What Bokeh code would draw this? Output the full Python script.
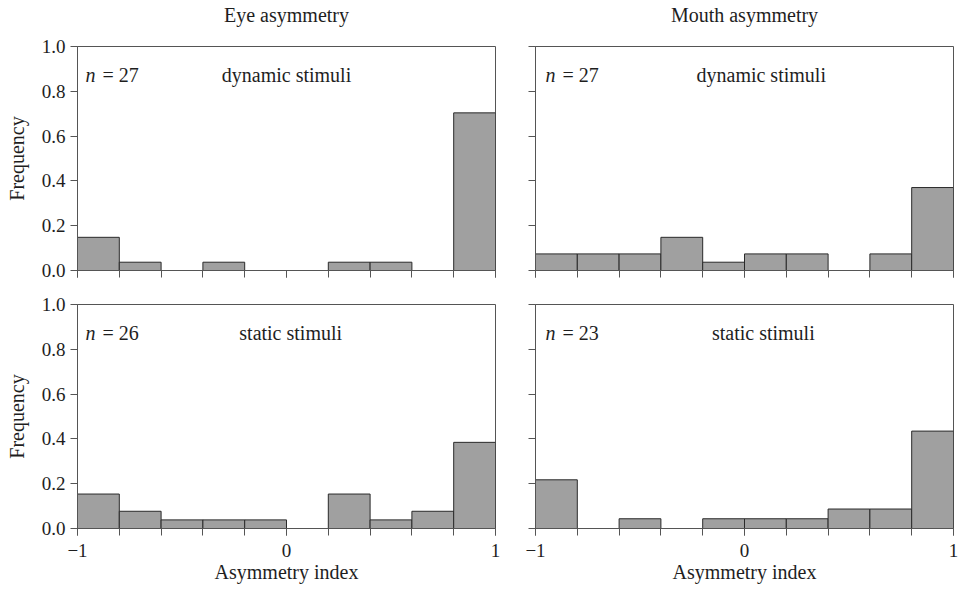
from bokeh.plotting import figure
from bokeh.layouts import column, row
from bokeh.models import FixedTicker, PrintfTickFormatter, CustomJSTickFormatter, Label, ColumnDataSource
from bokeh.embed import file_html
from bokeh.resources import INLINE

# ---- data ----
bin_edges = [-1.0, -0.8, -0.6, -0.4, -0.2, 0.0, 0.2, 0.4, 0.6, 0.8, 1.0]
eye_dynamic_counts = [4, 1, 0, 1, 0, 0, 1, 1, 0, 19]
eye_dynamic_n = 27
mouth_dynamic_counts = [2, 2, 2, 4, 1, 2, 2, 0, 2, 10]
mouth_dynamic_n = 27
eye_static_counts = [4, 2, 1, 1, 1, 0, 4, 1, 2, 10]
eye_static_n = 26
mouth_static_counts = [5, 0, 1, 0, 1, 1, 1, 2, 2, 10]
mouth_static_n = 23
y_ticks = [0.0, 0.2, 0.4, 0.6, 0.8, 1.0]
x_label_ticks = [-1, 0, 1]
column_titles = ["Eye asymmetry", "Mouth asymmetry"]
condition_labels = ["dynamic stimuli", "static stimuli"]
x_title = "Asymmetry index"
y_title = "Frequency"

FONT = "Liberation Serif"
AX = "#555555"
TXT = "#1e1e1e"


def make_header(col):
    left = col == 0
    p = figure(width=515 if left else 443, height=34, x_range=(-1, 1), y_range=(0, 1),
               output_backend="svg", toolbar_location=None,
               min_border_left=77 if left else 20,
               min_border_right=20 if left else 5,
               min_border_top=0, min_border_bottom=0)
    p.axis.visible = False
    p.grid.visible = False
    p.outline_line_color = None
    p.border_fill_color = "white"
    p.background_fill_color = "white"
    p.add_layout(Label(x=0, y=0.57, text=column_titles[col], text_align="center",
                       text_baseline="alphabetic", text_font=FONT,
                       text_font_size="20px", text_color=TXT))
    return p


def make_panel(counts, n, cond, col, r, cond_x):
    left = col == 0
    top = r == 0
    w = 515 if left else 443
    h = 248 if top else 304
    p = figure(width=w, height=h, x_range=(-1, 1), y_range=(0, 1),
               output_backend="svg", toolbar_location=None,
               min_border_left=77 if left else 20,
               min_border_right=20 if left else 5,
               min_border_top=12 if top else 22,
               min_border_bottom=12 if top else 58)
    freq = [c / n for c in counts]
    src = ColumnDataSource(dict(left=bin_edges[:-1], right=bin_edges[1:],
                                top=freq, bottom=[0] * len(freq)))
    p.quad(left="left", right="right", top="top", bottom="bottom", source=src,
           fill_color="#a0a0a0", line_color="#2a2a2a", line_width=1)
    p.xgrid.visible = False
    p.ygrid.visible = False
    p.outline_line_color = AX
    p.outline_line_width = 1
    p.background_fill_color = "white"
    p.border_fill_color = "white"

    xa = p.xaxis[0]
    xa.ticker = FixedTicker(ticks=x_label_ticks, minor_ticks=bin_edges)
    if top:
        xa.formatter = CustomJSTickFormatter(code='return "";')
    else:
        xa.formatter = CustomJSTickFormatter(code='return tick < 0 ? "\u2212" + Math.abs(tick) : String(tick);')
    xa.major_tick_in = 0
    xa.major_tick_out = 7
    xa.minor_tick_in = 0
    xa.minor_tick_out = 7
    xa.axis_line_color = AX
    xa.major_tick_line_color = AX
    xa.minor_tick_line_color = AX
    xa.major_label_text_font = FONT
    xa.major_label_text_font_size = "19px"
    xa.major_label_text_color = TXT
    xa.major_label_standoff = 8
    if not top:
        xa.axis_label = x_title
        xa.axis_label_text_font = FONT
        xa.axis_label_text_font_size = "20px"
        xa.axis_label_text_font_style = "normal"
        xa.axis_label_text_color = TXT
        xa.axis_label_standoff = 1

    ya = p.yaxis[0]
    ya.ticker = FixedTicker(ticks=y_ticks)
    if left:
        ya.formatter = PrintfTickFormatter(format="%.1f")
    else:
        ya.formatter = CustomJSTickFormatter(code='return "";')
    ya.major_tick_in = 0
    ya.major_tick_out = 7
    ya.minor_tick_line_color = None
    ya.axis_line_color = AX
    ya.major_tick_line_color = AX
    ya.major_label_text_font = FONT
    ya.major_label_text_font_size = "19px"
    ya.major_label_text_color = TXT
    ya.major_label_standoff = 5
    if left:
        ya.axis_label = y_title
        ya.axis_label_text_font = FONT
        ya.axis_label_text_font_size = "20px"
        ya.axis_label_text_font_style = "normal"
        ya.axis_label_text_color = TXT
        ya.axis_label_standoff = 11

    p.add_layout(Label(x=cond_x, y=0.875, text=cond, text_align="center",
                       text_baseline="alphabetic", text_font=FONT,
                       text_font_size="20px", text_color=TXT))
    nx = 8 if left else 10
    p.add_layout(Label(x=-1, y=0.875, x_offset=nx, text="n", text_align="left",
                       text_baseline="alphabetic", text_font=FONT,
                       text_font_style="italic",
                       text_font_size="20px", text_color=TXT))
    p.add_layout(Label(x=-1, y=0.875, x_offset=nx + 17, text="= " + str(n), text_align="left",
                       text_baseline="alphabetic", text_font=FONT,
                       text_font_size="20px", text_color=TXT))
    return p


h1 = make_header(0)
h2 = make_header(1)
p1 = make_panel(eye_dynamic_counts, eye_dynamic_n, condition_labels[0], 0, 0, 0.0)
p2 = make_panel(mouth_dynamic_counts, mouth_dynamic_n, condition_labels[0], 1, 0, 0.08)
p3 = make_panel(eye_static_counts, eye_static_n, condition_labels[1], 0, 1, 0.02)
p4 = make_panel(mouth_static_counts, mouth_static_n, condition_labels[1], 1, 1, 0.09)

layout = column(row(h1, h2), row(p1, p2), row(p3, p4))
open("out.html", "w", encoding="utf-8").write(file_html(layout, INLINE))
